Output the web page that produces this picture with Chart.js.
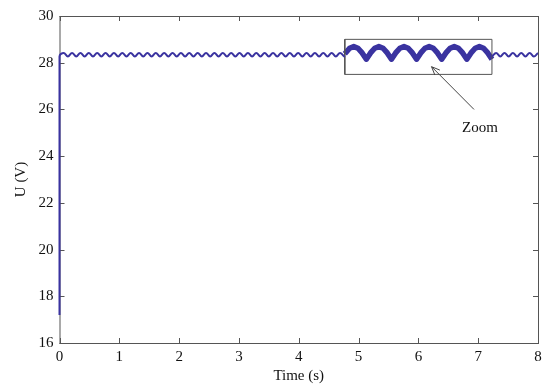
<!DOCTYPE html>
<html>
<head>
<meta charset="utf-8">
<script src="https://cdn.jsdelivr.net/npm/chart.js@4"></script>
<style>
  html, body { margin: 0; padding: 0; background: #fff; }
  #wrap { width: 550px; height: 387px; }
</style>
</head>
<body>
<div id="wrap"><canvas id="chart" width="550" height="387"></canvas></div>
<script>
// voltage trace, start transient + small ripple up to the zoom box
const timeA = [0, 0, 0.07, 0.14, 0.21, 0.28, 0.35, 0.42, 0.49, 0.56, 0.63, 0.70, 0.77, 0.84, 0.91, 0.98,
  1.05, 1.12, 1.19, 1.26, 1.33, 1.40, 1.47, 1.54, 1.61, 1.68, 1.75, 1.82, 1.89, 1.96, 2.03, 2.10,
  2.17, 2.24, 2.31, 2.38, 2.45, 2.52, 2.59, 2.66, 2.73, 2.80, 2.87, 2.94, 3.01, 3.08, 3.15, 3.22,
  3.29, 3.36, 3.43, 3.50, 3.57, 3.64, 3.71, 3.78, 3.85, 3.92, 3.99, 4.06, 4.13, 4.20, 4.27, 4.34,
  4.41, 4.48, 4.55, 4.62, 4.69, 4.76, 4.77];
const voltA = [17.2, 28.27, 28.42, 28.27, 28.42, 28.27, 28.42, 28.27, 28.42, 28.27, 28.42, 28.27, 28.42, 28.27, 28.42, 28.27,
  28.42, 28.27, 28.42, 28.27, 28.42, 28.27, 28.42, 28.27, 28.42, 28.27, 28.42, 28.27, 28.42, 28.27, 28.42, 28.27,
  28.42, 28.27, 28.42, 28.27, 28.42, 28.27, 28.42, 28.27, 28.42, 28.27, 28.42, 28.27, 28.42, 28.27, 28.42, 28.27,
  28.42, 28.27, 28.42, 28.27, 28.42, 28.27, 28.42, 28.27, 28.42, 28.27, 28.42, 28.27, 28.42, 28.27, 28.42, 28.27,
  28.42, 28.27, 28.42, 28.27, 28.42, 28.27, 28.29];

// ripple after the zoom box
const timeB = [7.23, 7.30, 7.37, 7.44, 7.51, 7.58, 7.65, 7.72, 7.79, 7.86, 7.93, 8.00];
const voltB = [28.27, 28.42, 28.27, 28.42, 28.27, 28.42, 28.27, 28.42, 28.27, 28.42, 28.27, 28.42];

// magnified ripple drawn inside the box
const zoomTime = [4.77, 4.85, 4.92, 4.99, 5.06, 5.13,
  5.20, 5.27, 5.34, 5.41, 5.48, 5.55,
  5.62, 5.69, 5.76, 5.83, 5.90, 5.97,
  6.04, 6.11, 6.18, 6.25, 6.32, 6.39,
  6.46, 6.53, 6.60, 6.67, 6.74, 6.81,
  6.88, 6.95, 7.02, 7.09, 7.16, 7.23];
const zoomVolt = [28.38, 28.62, 28.69, 28.62, 28.42, 28.15,
  28.42, 28.62, 28.69, 28.62, 28.42, 28.15,
  28.42, 28.62, 28.69, 28.62, 28.42, 28.15,
  28.42, 28.62, 28.69, 28.62, 28.42, 28.15,
  28.42, 28.62, 28.69, 28.62, 28.42, 28.15,
  28.42, 28.62, 28.69, 28.62, 28.42, 28.15];

// zoom frame corners
const boxTime = [4.77, 7.23, 7.23, 4.77, 4.77];
const boxVolt = [27.5, 27.5, 29.0, 29.0, 27.5];

const xTicks = [0, 1, 2, 3, 4, 5, 6, 7, 8];
const yTicks = [16, 18, 20, 22, 24, 26, 28, 30];

// annotation (data units)
const arrowFrom = { x: 6.93, y: 26.0 };
const arrowTo = { x: 6.22, y: 27.83 };
const zoomLabel = { x: 7.03, y: 25.2, text: 'Zoom' };

const lineColor = '#3a33a0';
const font = 'Liberation Serif';

function pts(xs, ys) {
  return xs.map((x, i) => ({ x: x, y: ys[i] }));
}

// MATLAB-like box with inward ticks
const frame = {
  id: 'frame',
  beforeDatasetsDraw(chart) {
    const { ctx, chartArea: a, scales } = chart;
    ctx.save();
    ctx.strokeStyle = '#555';
    ctx.lineWidth = 1;
    ctx.strokeRect(a.left + 0.5, a.top + 0.5, a.right - a.left, a.bottom - a.top);
    ctx.beginPath();
    xTicks.forEach(v => {
      const px = Math.round(scales.x.getPixelForValue(v)) + 0.5;
      ctx.moveTo(px, a.bottom); ctx.lineTo(px, a.bottom - 5);
      ctx.moveTo(px, a.top); ctx.lineTo(px, a.top + 5);
    });
    yTicks.forEach(v => {
      const py = Math.round(scales.y.getPixelForValue(v)) + 0.5;
      ctx.moveTo(a.left, py); ctx.lineTo(a.left + 5, py);
      ctx.moveTo(a.right, py); ctx.lineTo(a.right - 5, py);
    });
    ctx.stroke();
    ctx.restore();
  },
  afterDatasetsDraw(chart) {
    const { ctx, scales } = chart;
    const x0 = scales.x.getPixelForValue(arrowFrom.x), y0 = scales.y.getPixelForValue(arrowFrom.y);
    const x1 = scales.x.getPixelForValue(arrowTo.x), y1 = scales.y.getPixelForValue(arrowTo.y);
    const ang = Math.atan2(y1 - y0, x1 - x0);
    ctx.save();
    ctx.strokeStyle = '#444';
    ctx.lineWidth = 1;
    ctx.beginPath();
    ctx.moveTo(x0, y0); ctx.lineTo(x1, y1);
    ctx.moveTo(x1 - 9 * Math.cos(ang - 0.4), y1 - 9 * Math.sin(ang - 0.4));
    ctx.lineTo(x1, y1);
    ctx.lineTo(x1 - 9 * Math.cos(ang + 0.4), y1 - 9 * Math.sin(ang + 0.4));
    ctx.stroke();
    ctx.fillStyle = '#111';
    ctx.font = '15px "' + font + '"';
    ctx.textAlign = 'center';
    ctx.textBaseline = 'middle';
    ctx.fillText(zoomLabel.text, scales.x.getPixelForValue(zoomLabel.x), scales.y.getPixelForValue(zoomLabel.y));
    ctx.restore();
  }
};

new Chart(document.getElementById('chart'), {
  type: 'line',
  data: {
    datasets: [
      { data: pts(timeA, voltA), borderColor: lineColor, borderWidth: 2, tension: 0.4, pointRadius: 0,
        clip: { left: 2, top: 0, right: 0, bottom: 0 } },
      { data: pts(timeB, voltB), borderColor: lineColor, borderWidth: 2, tension: 0.4, pointRadius: 0 },
      { data: pts(boxTime, boxVolt), borderColor: '#555', borderWidth: 1, tension: 0, pointRadius: 0 },
      { data: pts(zoomTime, zoomVolt), borderColor: lineColor, borderWidth: 5.5, tension: 0, pointRadius: 0,
        borderJoinStyle: 'round' }
    ]
  },
  options: {
    responsive: false,
    animation: false,
    events: [],
    layout: { padding: { top: 16, right: 12, left: 0, bottom: 0 } },
    plugins: { legend: { display: false }, tooltip: { enabled: false } },
    scales: {
      x: {
        type: 'linear', min: 0, max: 8,
        afterFit: s => { s.height = 44; },
        afterBuildTicks: s => { s.ticks = xTicks.map(v => ({ value: v })); },
        grid: { display: false, drawTicks: false },
        border: { display: false },
        ticks: { color: '#111', padding: 5, font: { family: font, size: 15 } },
        title: { display: true, text: 'Time (s)', color: '#111', padding: { top: 0, bottom: 2 },
          font: { family: font, size: 15 } }
      },
      y: {
        min: 16, max: 30,
        afterFit: s => { s.width = 59.5; },
        afterBuildTicks: s => { s.ticks = yTicks.map(v => ({ value: v })); },
        grid: { display: false, drawTicks: false },
        border: { display: false },
        ticks: { color: '#111', padding: 6, font: { family: font, size: 15 } },
        title: { display: true, text: 'U (V)', color: '#111', padding: { top: 12, bottom: 0 },
          font: { family: font, size: 15 } }
      }
    }
  },
  plugins: [frame]
});
</script>
</body>
</html>
